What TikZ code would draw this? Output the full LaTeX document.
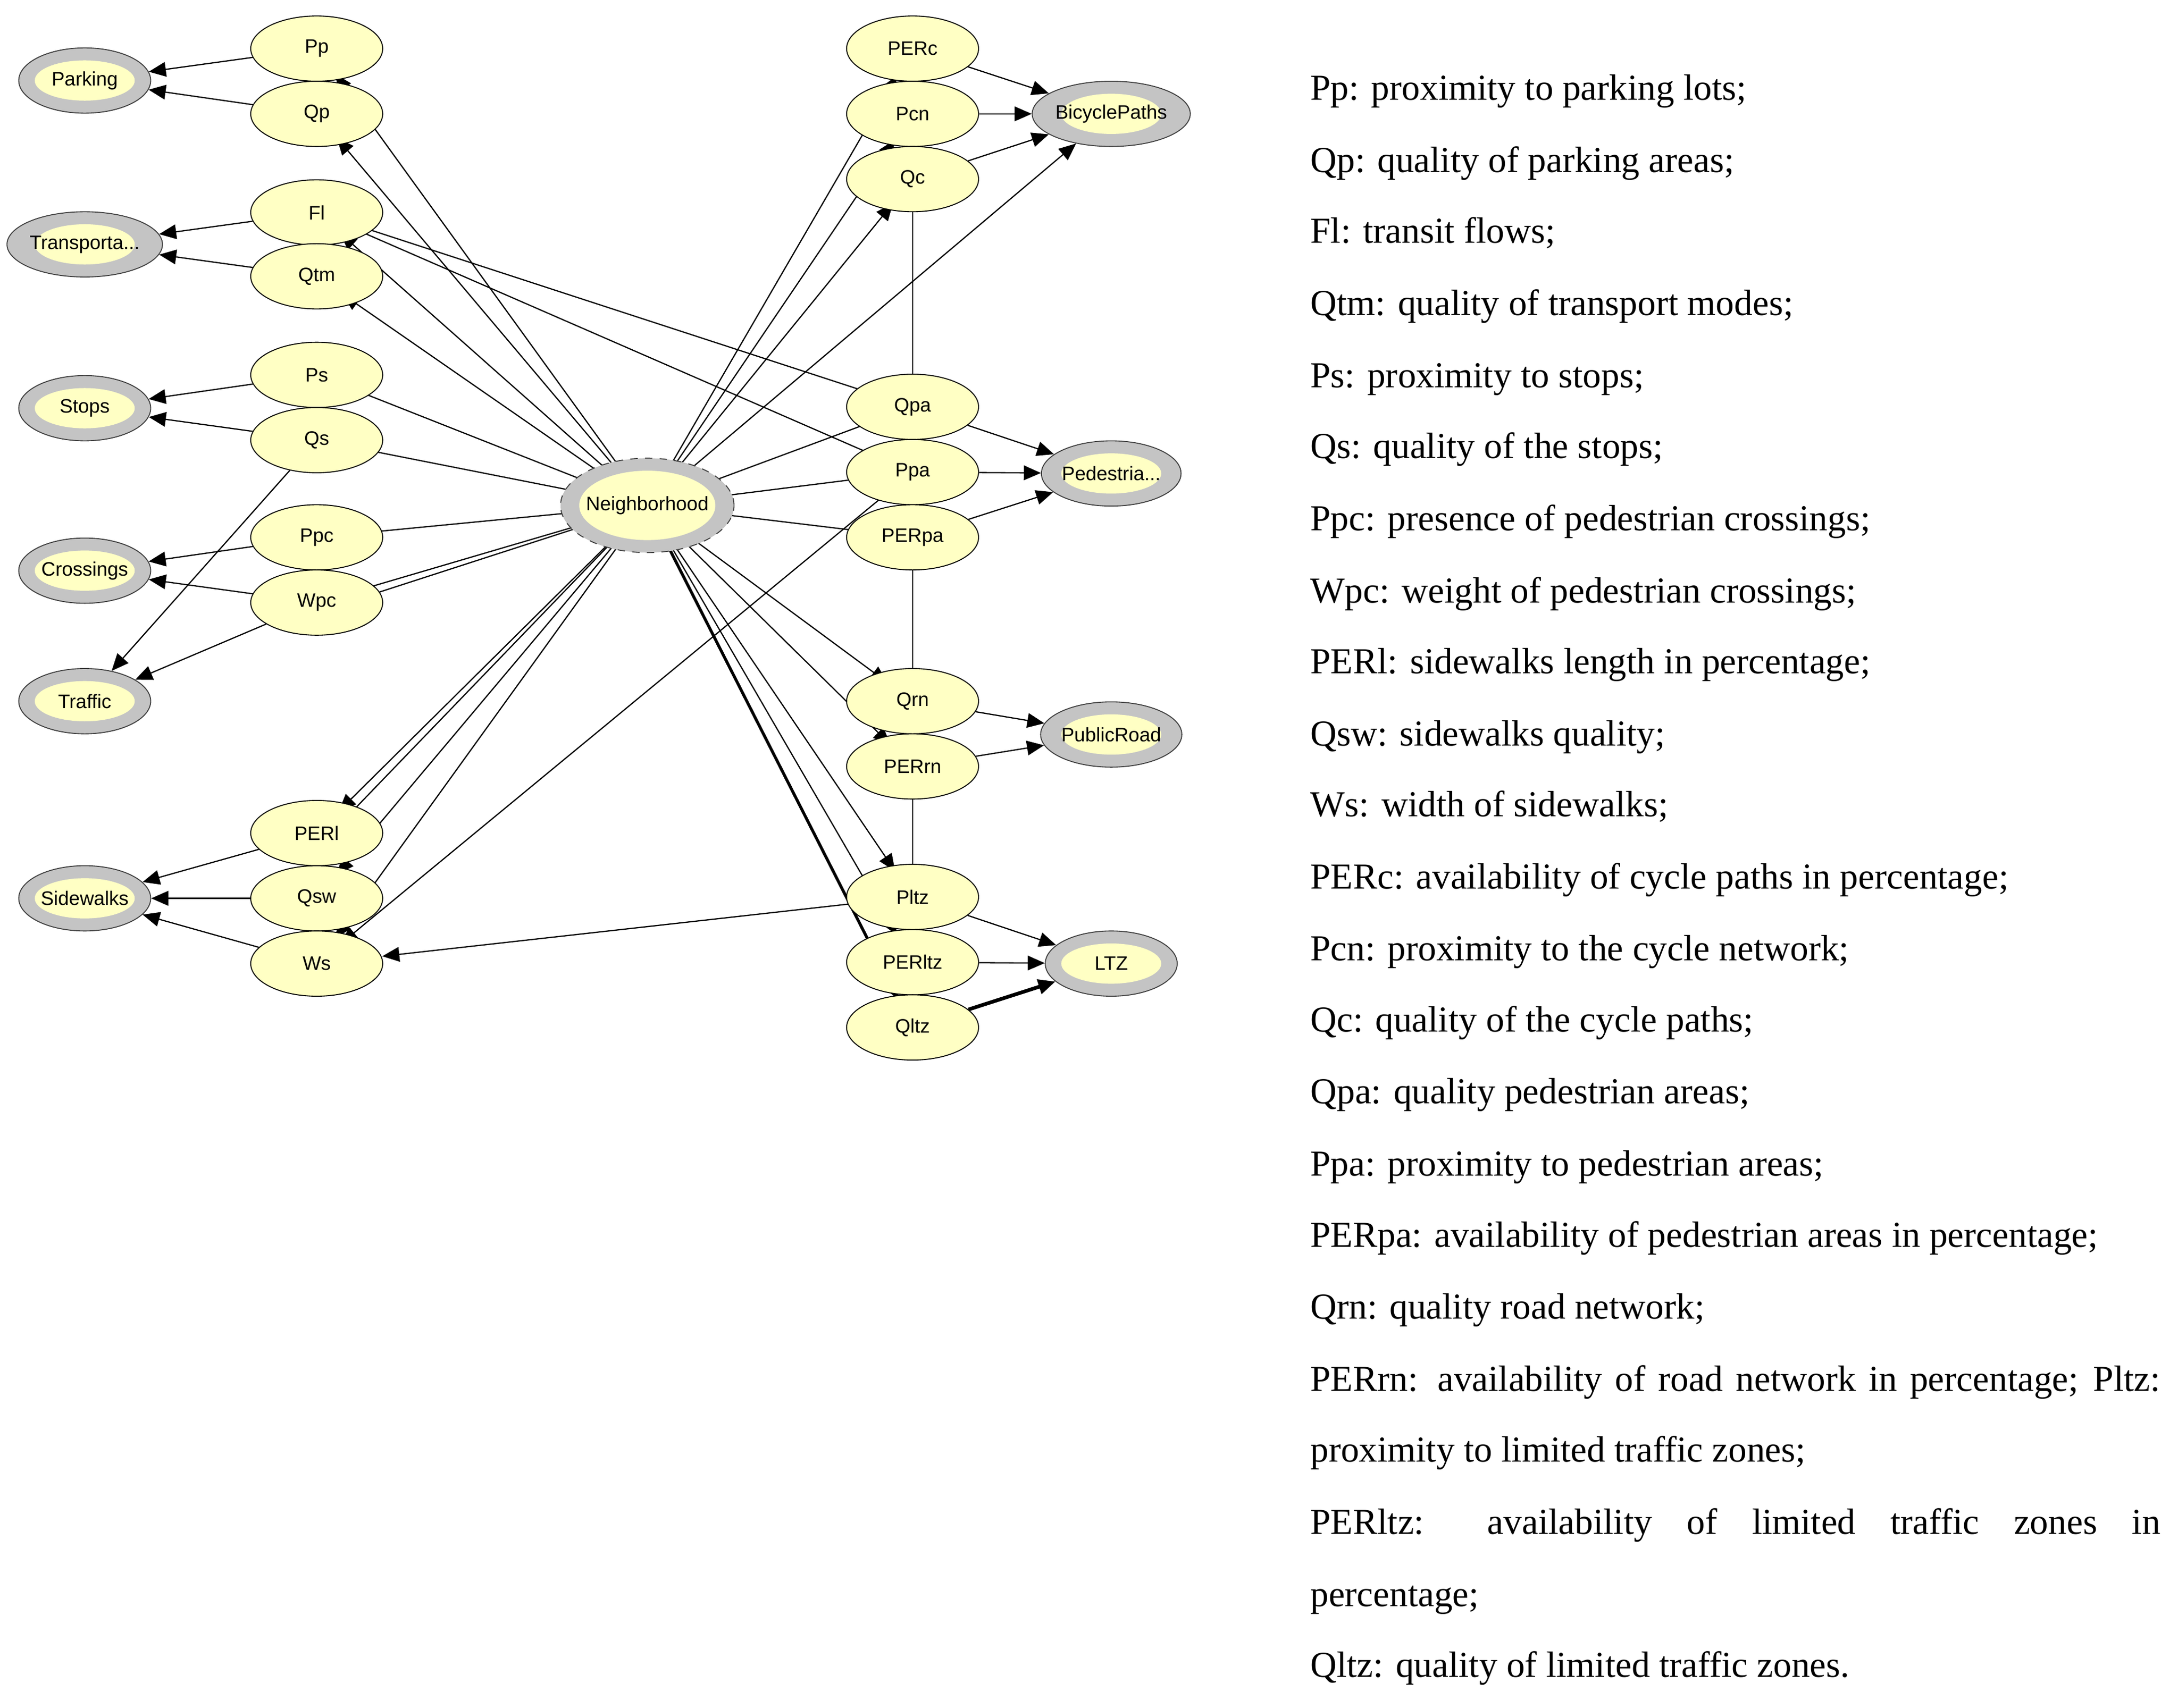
\documentclass[tikz,border=0pt]{standalone}
\usepackage{fontspec}
\setmainfont{Liberation Serif}
\newfontfamily\nodefont{Liberation Sans}
\usetikzlibrary{shapes.geometric,arrows.meta}
\definecolor{yfill}{HTML}{FFFFC4}
\definecolor{ring}{HTML}{C4C4C4}
\begin{document}
\begin{tikzpicture}[x=0.02cm,y=-0.02cm,
  var/.style={ellipse,draw=black,fill=yfill,minimum width=1.9cm,minimum height=0.94cm,inner sep=0pt,font=\nodefont\fontsize{8}{9}\selectfont},
  tgt/.style={var,draw=black!75,fill=ring,path picture={\fill[yfill] (path picture bounding box.center) ellipse (0.72cm and 0.29cm);}},
  hub/.style={tgt,dashed,minimum width=2.4cm,minimum height=1.36cm,path picture={\fill[yfill] (path picture bounding box.center) ellipse (0.98cm and 0.5cm);}},
  e/.style={-{Triangle[length=7pt,width=6pt]},line width=0.5pt},
  ln/.style={line width=0.5pt},
  lg/.style={anchor=base west,font=\fontsize{15}{18}\selectfont,inner sep=0pt}]
\useasboundingbox (0,0) rectangle (1568,1230);
% coordinates of nodes
\coordinate (cPp) at (228,35); \coordinate (cQp) at (228,82);
\coordinate (cFl) at (228,153); \coordinate (cQtm) at (228,199);
\coordinate (cPs) at (228,270); \coordinate (cQs) at (228,317);
\coordinate (cPpc) at (228,387); \coordinate (cWpc) at (228,434);
\coordinate (cPERl) at (228,600); \coordinate (cQsw) at (228,647); \coordinate (cWs) at (228,694);
\coordinate (cPERc) at (657,35); \coordinate (cPcn) at (657,82); \coordinate (cQc) at (657,129);
\coordinate (cQpa) at (657,293); \coordinate (cPpa) at (657,340); \coordinate (cPERpa) at (657,387);
\coordinate (cQrn) at (657,505); \coordinate (cPERrn) at (657,552);
\coordinate (cPltz) at (657,646); \coordinate (cPERltz) at (657,693); \coordinate (cQltz) at (657,740);
\coordinate (cN) at (466,364);
% edges drawn first (behind nodes)
\foreach \t in {Pp,Qp,Fl,Qtm,Ps,Qs,Ppc,Wpc,PERl,Qsw,Ws,PERc,Pcn,Qc,Qpa,Ppa,PERpa,Qrn,PERrn,Pltz,PERltz}
  \draw[e,shorten >=0.45cm] (cN) -- (c\t);
\draw[e,line width=1.2pt,shorten >=0.45cm] (cN) -- (cQltz);
\draw[ln] (cN) -- ([xshift=6]cPERl);
\draw[ln] (cN) -- ([yshift=-4]cWpc);
\draw[e,shorten >=0.3cm] (cQpa) -- (cFl);
\draw[e,shorten >=0.35cm] (cPpa) -- (cFl);
\draw[e,shorten >=0.45cm] (cPpa) -- (cWs);
\draw[e,shorten >=0.95cm] (cPltz) -- (cWs);
\draw[ln] (cQc) -- (cQpa);
\draw[ln] (cPERpa) -- (cQrn);
\draw[ln] (cPERrn) -- (cPltz);
% nodes
\node[var] (Pp) at (cPp) {Pp}; \node[var] (Qp) at (cQp) {Qp};
\node[var] (Fl) at (cFl) {Fl}; \node[var] (Qtm) at (cQtm) {Qtm};
\node[var] (Ps) at (cPs) {Ps}; \node[var] (Qs) at (cQs) {Qs};
\node[var] (Ppc) at (cPpc) {Ppc}; \node[var] (Wpc) at (cWpc) {Wpc};
\node[var] (PERl) at (cPERl) {PERl}; \node[var] (Qsw) at (cQsw) {Qsw}; \node[var] (Ws) at (cWs) {Ws};
\node[var] (PERc) at (cPERc) {PERc}; \node[var] (Pcn) at (cPcn) {Pcn}; \node[var] (Qc) at (cQc) {Qc};
\node[var] (Qpa) at (cQpa) {Qpa}; \node[var] (Ppa) at (cPpa) {Ppa}; \node[var] (PERpa) at (cPERpa) {PERpa};
\node[var] (Qrn) at (cQrn) {Qrn}; \node[var] (PERrn) at (cPERrn) {PERrn};
\node[var] (Pltz) at (cPltz) {Pltz}; \node[var] (PERltz) at (cPERltz) {PERltz}; \node[var] (Qltz) at (cQltz) {Qltz};
\node[hub] (N) at (cN) {Neighborhood};
\node[tgt] (Parking) at (61,58) {Parking};
\node[tgt] (Transp) at (61,176) {Transporta...};
\node[tgt] (Stops) at (61,294) {Stops};
\node[tgt] (Crossings) at (61,411) {Crossings};
\node[tgt] (Traffic) at (61,505) {Traffic};
\node[tgt] (Sidewalks) at (61,647) {Sidewalks};
\node[tgt] (Bicycle) at (800,82) {BicyclePaths};
\node[tgt] (Ped) at (800,341) {Pedestria...};
\node[tgt] (Public) at (800,529) {PublicRoad};
\node[tgt] (LTZ) at (800,694) {LTZ};
% edges to targets
\draw[e] (Pp) -- (Parking); \draw[e] (Qp) -- (Parking);
\draw[e] (Fl) -- (Transp); \draw[e] (Qtm) -- (Transp);
\draw[e] (Ps) -- (Stops); \draw[e] (Qs) -- (Stops);
\draw[e] (Ppc) -- (Crossings); \draw[e] (Wpc) -- (Crossings);
\draw[e] (Qs) -- (Traffic); \draw[e] (Wpc) -- (Traffic);
\draw[e] (PERl) -- (Sidewalks); \draw[e] (Qsw) -- (Sidewalks); \draw[e] (Ws) -- (Sidewalks);
\draw[e] (PERc) -- (Bicycle); \draw[e] (Pcn) -- (Bicycle); \draw[e] (Qc) -- (Bicycle);
\draw[e] (N) -- (Bicycle);
\draw[e] (Qpa) -- (Ped); \draw[e] (Ppa) -- (Ped); \draw[e] (PERpa) -- (Ped);
\draw[e] (Qrn) -- (Public); \draw[e] (PERrn) -- (Public);
\draw[e] (Pltz) -- (LTZ); \draw[e] (PERltz) -- (LTZ);
\draw[e,line width=1.5pt] (Qltz) -- (LTZ);
% legend
\node[lg] (l1) at (943,72) {Pp: proximity to parking lots;};
\node[lg] (l2) at (943,124) {Qp: quality of parking areas;};
\node[lg] (l3) at (943,175) {Fl: transit flows;};
\node[lg] (l4) at (943,227) {Qtm: quality of transport modes;};
\node[lg] (l5) at (943,279) {Ps: proximity to stops;};
\node[lg] (l6) at (943,330) {Qs: quality of the stops;};
\node[lg] (l7) at (943,382) {Ppc: presence of pedestrian crossings;};
\node[lg] (l8) at (943,434) {Wpc: weight of pedestrian crossings;};
\node[lg] (l9) at (943,485) {PERl: sidewalks length in percentage;};
\node[lg] (l10) at (943,537) {Qsw: sidewalks quality;};
\node[lg] (l11) at (943,588) {Ws: width of sidewalks;};
\node[lg] (l12) at (943,640) {PERc: availability of cycle paths in percentage;};
\node[lg] (l13) at (943,692) {Pcn: proximity to the cycle network;};
\node[lg] (l14) at (943,743) {Qc: quality of the cycle paths;};
\node[lg] (l15) at (943,795) {Qpa: quality pedestrian areas;};
\node[lg] (l16) at (943,847) {Ppa: proximity to pedestrian areas;};
\node[lg] (l17) at (943,898) {PERpa: availability of pedestrian areas in percentage;};
\node[lg] (l18) at (943,950) {Qrn: quality road network;};
\node[lg] (l19) at (943,1002) {\makebox[12.24cm][s]{PERrn: availability of road network in percentage; Pltz:}};
\node[lg] (l20) at (943,1053) {proximity to limited traffic zones;};
\node[lg] (l21) at (943,1105) {\makebox[12.24cm][s]{PERltz: availability of limited traffic zones in}};
\node[lg] (l22) at (943,1157) {percentage;};
\node[lg] (l23) at (943,1208) {Qltz: quality of limited traffic zones.};
\end{tikzpicture}
\end{document}
